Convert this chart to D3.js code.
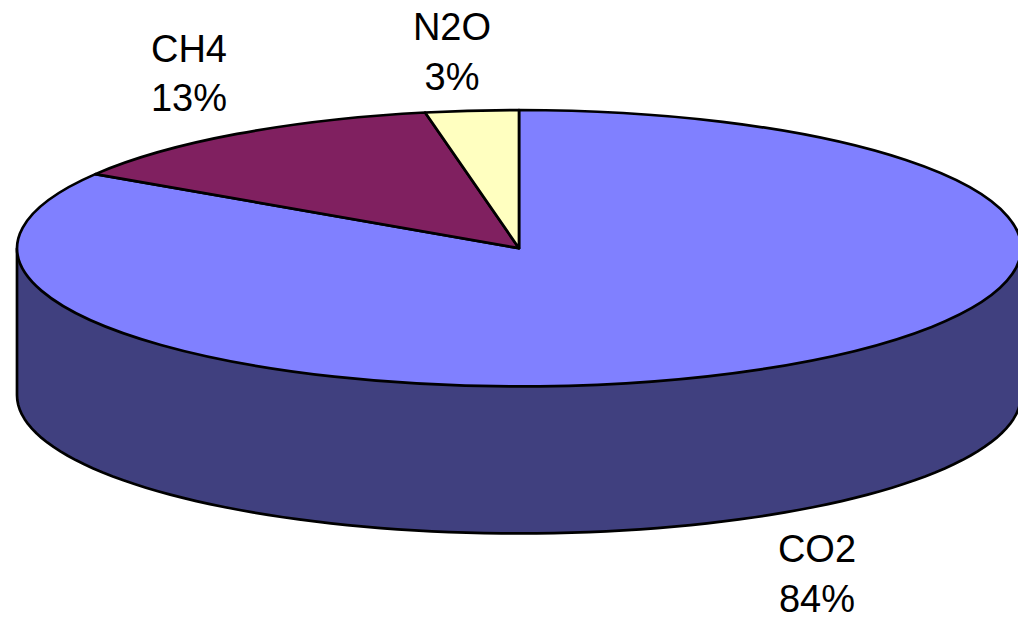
<!DOCTYPE html>
<html><head><meta charset="utf-8">
<script src="https://cdn.jsdelivr.net/npm/d3@7"></script>
<style>html,body{margin:0;padding:0;background:#fff;overflow:hidden}svg{display:block}</style>
</head><body><svg id="c" width="1018" height="617"></svg>
<script>
const categories = ["CO2","CH4","N2O"];
const percents = [84,13,3];
const colors = ["#8080FF","#802060","#FFFFC0"];
const sideColor = "#40407F";

const cx=519, cy=248.2, rx=502, ry=138.2, depth=147;
const svg=d3.select("#c");
const pie=d3.pie().sort(null).value(d=>d)(percents);
const arc=d3.arc().innerRadius(0).outerRadius(1);
const g=svg.append("g");

// side wall
const wall=d3.path();
wall.moveTo(cx-rx,cy);
wall.lineTo(cx-rx,cy+depth);
d3.range(0,181,2).forEach(t=>{
  const r=t*Math.PI/180;
  wall.lineTo(cx-rx*Math.cos(r),cy+depth+ry*Math.sin(r));
});
wall.lineTo(cx+rx,cy);
g.append("path").attr("d",wall.toString()).attr("fill",sideColor).attr("stroke","#000").attr("stroke-width",2.7).attr("stroke-linejoin","round");

// top slices
g.selectAll("path.s").data(pie).join("path").attr("class","s")
 .attr("d",arc)
 .attr("transform",`translate(${cx},${cy}) scale(${rx},${ry})`)
 .attr("fill",(d,i)=>colors[i])
 .attr("stroke","#000").attr("stroke-width",2.7)
 .attr("vector-effect","non-scaling-stroke").attr("stroke-linejoin","round");

const labels=[{x:817,y:[562,612]},{x:189,y:[61.5,111]},{x:452,y:[40,90]}];
categories.forEach((c,i)=>{
  const t=svg.append("text").attr("text-anchor","middle").attr("font-family","Liberation Sans, Arial, sans-serif").attr("font-size",38).attr("fill","#000");
  t.append("tspan").attr("x",labels[i].x).attr("y",labels[i].y[0]).text(c);
  t.append("tspan").attr("x",labels[i].x).attr("y",labels[i].y[1]).text(percents[i]+"%");
});
</script></body></html>
